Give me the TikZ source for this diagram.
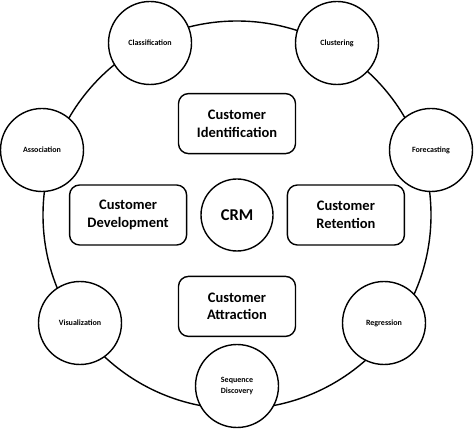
\documentclass[tikz,border=0pt]{standalone}
\usepackage{fontspec}
\setmainfont{Carlito}
\usetikzlibrary{positioning}

\begin{document}
\begin{tikzpicture}[x=1pt, y=-1pt, line width=1.4pt,
  node distance = 24pt and 13pt,
  task/.style = {draw, rounded corners=10pt, minimum width=117pt,
    minimum height=60pt, align=center,
    font=\bfseries\fontsize{14.5}{17.5}\selectfont},
  tech/.style = {draw, circle, fill=white, minimum size=83pt, inner sep=0pt,
    align=center, font=\bfseries\fontsize{8}{10.5}\selectfont}
  ]
  \useasboundingbox (0,0) rectangle (474,430);
  % outer ring
  \node (ring) [draw, circle, minimum size=388pt] at (237,215) {};

  % core
  \node (crm) [draw, circle, minimum size=72pt, inner sep=0pt,
    font=\bfseries\fontsize{16.5}{20}\selectfont] at (237,215) {CRM};
  \node (ident) [task, above=of crm] {Customer\\Identification};
  \node (attr)  [task, below=of crm] {Customer\\Attraction};
  \node (dev)   [task, left=of crm]  {Customer\\Development};
  \node (ret)   [task, right=of crm] {Customer\\Retention};

  % data mining techniques
  \node (class) [tech] at (150,43)  {Classification};
  \node (clust) [tech] at (337,43)  {Clustering};
  \node (assoc) [tech] at (42,150)  {Association};
  \node (fore)  [tech] at (431,150) {Forecasting};
  \node (visu)  [tech] at (80,323)  {Visualization};
  \node (regr)  [tech] at (384,323) {Regression};
  \node (seq)   [tech] at (237,386) {Sequence\\Discovery};
\end{tikzpicture}
\end{document}
